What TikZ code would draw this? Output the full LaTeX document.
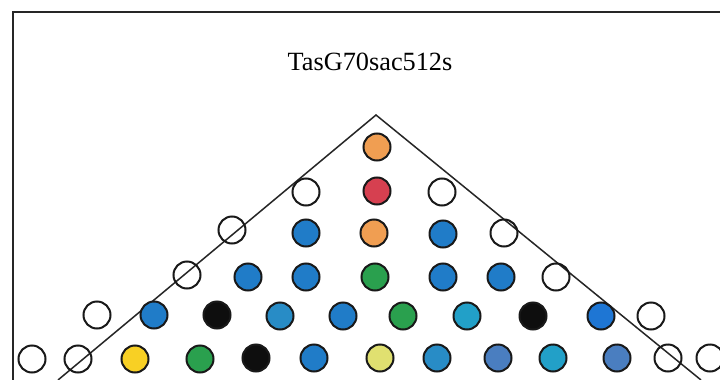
\documentclass[tikz,border=0pt]{standalone}
\usepackage{fontspec}
\setmainfont{Liberation Serif}
\definecolor{cOrange}{RGB}{240,158,82}
\definecolor{cRed}{RGB}{214,64,80}
\definecolor{cBlue}{RGB}{32,124,200}
\definecolor{cBlueB}{RGB}{30,118,212}
\definecolor{cBlueM}{RGB}{40,140,198}
\definecolor{cGreen}{RGB}{42,160,78}
\definecolor{cBlack}{RGB}{14,14,14}
\definecolor{cYellow}{RGB}{248,208,36}
\definecolor{cLYellow}{RGB}{224,224,112}
\definecolor{cCyan}{RGB}{34,160,200}
\definecolor{cSteel}{RGB}{74,126,192}
\begin{document}
\begin{tikzpicture}[x=1pt,y=-1pt,
  bead/.style={circle,draw=black!90,line width=2pt,minimum size=27pt,inner sep=0pt},
  hole/.style={circle,draw=black!90,line width=2pt,fill=none,minimum size=27pt,inner sep=0pt},
  frameline/.style={line width=2pt,draw=black!85},
  guide/.style={line width=1.5pt,draw=black!85}]
\useasboundingbox (0,0) rectangle (720,380);
\fill[white] (0,0) rectangle (720,380);
\draw[frameline] (13,380) -- (13,12) -- (720,12);
\node[font=\fontsize{26.3}{30}\selectfont,anchor=base] (title) at (370,70) {TasG70sac512s};
% guide lines
\coordinate (apex) at (376,115);
\coordinate (lend) at (58,380);
\coordinate (rend) at (701,380);
\draw[guide] (lend) -- (apex) -- (rend);
% open holes
\foreach \n/\x/\y in {h2a/306/192, h2b/442/192, h3a/232/230, h3b/504/233,
  h4a/187/275, h4b/556/277, h5a/97/315, h5b/651/316,
  h6a/32/359, h6b/78/359, h6c/668/358, h6d/710/358}
  \node[hole] (\n) at (\x,\y) {};
% filled beads
\foreach \n/\x/\y/\c in {
  b1a/377/147/cOrange,
  b2a/377/191/cRed,
  b3a/306/233/cBlue, b3b/374/233/cOrange, b3c/443/234/cBlue,
  b4a/248/277/cBlue, b4b/306/277/cBlue, b4c/375/277/cGreen, b4d/443/277/cBlue, b4e/501/277/cBlue,
  b5a/154/315/cBlue, b5b/217/315/cBlack, b5c/280/316/cBlueM, b5d/343/316/cBlue, b5e/403/316/cGreen,
  b5f/467/316/cCyan, b5g/533/316/cBlack, b5h/601/316/cBlueB,
  b6a/135/359/cYellow, b6b/200/359/cGreen, b6c/256/358/cBlack, b6d/314/358/cBlue, b6e/380/358/cLYellow,
  b6f/437/358/cBlueM, b6g/498/358/cSteel, b6h/553/358/cCyan, b6i/617/358/cSteel}
  \node[bead,fill=\c] (\n) at (\x,\y) {};
\end{tikzpicture}
\end{document}
